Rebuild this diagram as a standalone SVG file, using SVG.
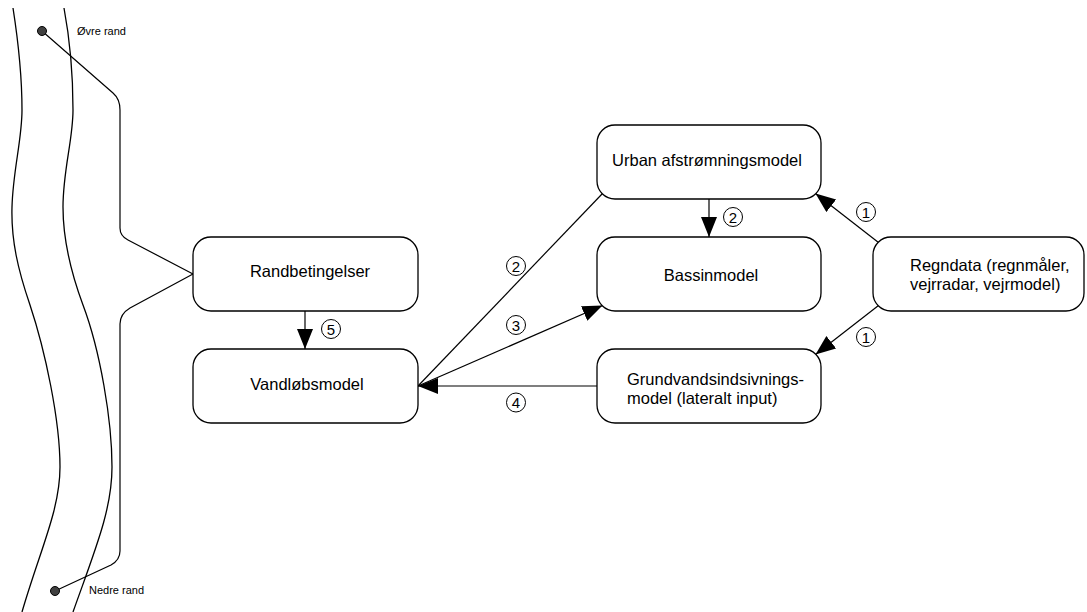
<svg xmlns="http://www.w3.org/2000/svg" width="1087" height="612" viewBox="0 0 1087 612">
  <defs>
    <style>
      .box { fill: #ffffff; stroke: #000000; stroke-width: 1.3; }
      .lbl { font-family: "Liberation Sans", Arial, sans-serif; font-size: 16.5px; fill: #000000; }
      .small { font-family: "Liberation Sans", Arial, sans-serif; font-size: 11px; fill: #000000; }
      .num { font-family: "Liberation Sans", Arial, sans-serif; font-size: 15px; fill: #000000; text-anchor: middle; }
      .ring { fill: #ffffff; stroke: #000000; stroke-width: 1; }
      .wire { fill: none; stroke: #000000; stroke-width: 1.2; }
      .bank { fill: none; stroke: #000000; stroke-width: 1.3; }
      .dot { fill: #404040; stroke: #000000; stroke-width: 1; }
    </style>
    <marker id="head" markerUnits="userSpaceOnUse" markerWidth="22" markerHeight="18" refX="20" refY="8" orient="auto">
      <path d="M0,0 L20,8 L0,16 Z" fill="#000000"/>
    </marker>
  </defs>

  <!-- river banks -->
  <g id="river">
    <path class="bank" d="M13,8 C18,40 22,80 22,110 C22,140 13,170 12,207 C11,240 18,270 30,305 C45,350 60,420 60,467 C60,510 40,550 22,612"/>
    <path class="bank" d="M64,8 C70,40 73,80 73,110 C73,140 63,170 63,207 C63,240 70,270 83,305 C100,350 112,420 112,467 C112,510 95,550 73,612"/>
  </g>

  <!-- boundary points and their links to the boundary conditions -->
  <g id="boundaries">
    <path class="wire" d="M42,31 L113,93 Q120,99 120,110 L120,228 Q120,236 128,240 L193,274"/>
    <path class="wire" d="M193,274 L130,308 Q120,314 120,324 L120,551 Q120,560 111,565 L55,591"/>
    <circle class="dot" cx="42" cy="31" r="4.5"/>
    <circle class="dot" cx="55" cy="591" r="4.5"/>
    <text class="small" x="77" y="35">Øvre rand</text>
    <text class="small" x="89" y="594">Nedre rand</text>
  </g>

  <!-- connectors -->
  <g id="connectors">
    <line class="wire" x1="305" y1="311" x2="305" y2="349" marker-end="url(#head)"/>
    <line class="wire" x1="709" y1="199" x2="709" y2="237" marker-end="url(#head)"/>
    <line class="wire" x1="878.5" y1="242.5" x2="815.5" y2="193.5" marker-end="url(#head)"/>
    <line class="wire" x1="878.5" y1="305.5" x2="815.5" y2="354.5" marker-end="url(#head)"/>
    <line class="wire" x1="602.5" y1="193.5" x2="418" y2="386"/>
    <line class="wire" x1="418" y1="386" x2="602.5" y2="305.5" marker-end="url(#head)"/>
    <line class="wire" x1="597" y1="386" x2="418" y2="386" marker-end="url(#head)"/>
  </g>

  <!-- step numbers -->
  <g id="steps">
    <circle class="ring" cx="331" cy="329" r="9.5"/><text class="num" x="331" y="334.5">5</text>
    <circle class="ring" cx="733" cy="217" r="9.5"/><text class="num" x="733" y="222.5">2</text>
    <circle class="ring" cx="516" cy="266" r="9.5"/><text class="num" x="516" y="271.5">2</text>
    <circle class="ring" cx="516" cy="325" r="9.5"/><text class="num" x="516" y="330.5">3</text>
    <circle class="ring" cx="516" cy="402.5" r="9.5"/><text class="num" x="516" y="408">4</text>
    <circle class="ring" cx="866" cy="212" r="9.5"/><text class="num" x="866" y="217.5">1</text>
    <circle class="ring" cx="866" cy="337" r="9.5"/><text class="num" x="866" y="342.5">1</text>
  </g>

  <!-- model boxes -->
  <g id="randbetingelser">
    <rect class="box" x="193" y="237" width="225" height="74" rx="18"/>
    <text class="lbl" x="310" y="277" text-anchor="middle">Randbetingelser</text>
  </g>
  <g id="vandloebsmodel">
    <rect class="box" x="193" y="349" width="225" height="74" rx="18"/>
    <text class="lbl" x="307" y="390" text-anchor="middle">Vandløbsmodel</text>
  </g>
  <g id="urban">
    <rect class="box" x="597" y="125" width="224" height="74" rx="18"/>
    <text class="lbl" x="707" y="166" text-anchor="middle">Urban afstrømningsmodel</text>
  </g>
  <g id="bassinmodel">
    <rect class="box" x="597" y="237" width="224" height="74" rx="18"/>
    <text class="lbl" x="711" y="281" text-anchor="middle">Bassinmodel</text>
  </g>
  <g id="grundvand">
    <rect class="box" x="597" y="349" width="224" height="74" rx="18"/>
    <text class="lbl" x="627" y="385">Grundvandsindsivnings-</text>
    <text class="lbl" x="627" y="403.5">model (lateralt input)</text>
  </g>
  <g id="regndata">
    <rect class="box" x="873" y="237" width="211" height="74" rx="18"/>
    <text class="lbl" x="910" y="271">Regndata (regnmåler,</text>
    <text class="lbl" x="910" y="289.5">vejrradar, vejrmodel)</text>
  </g>
</svg>
